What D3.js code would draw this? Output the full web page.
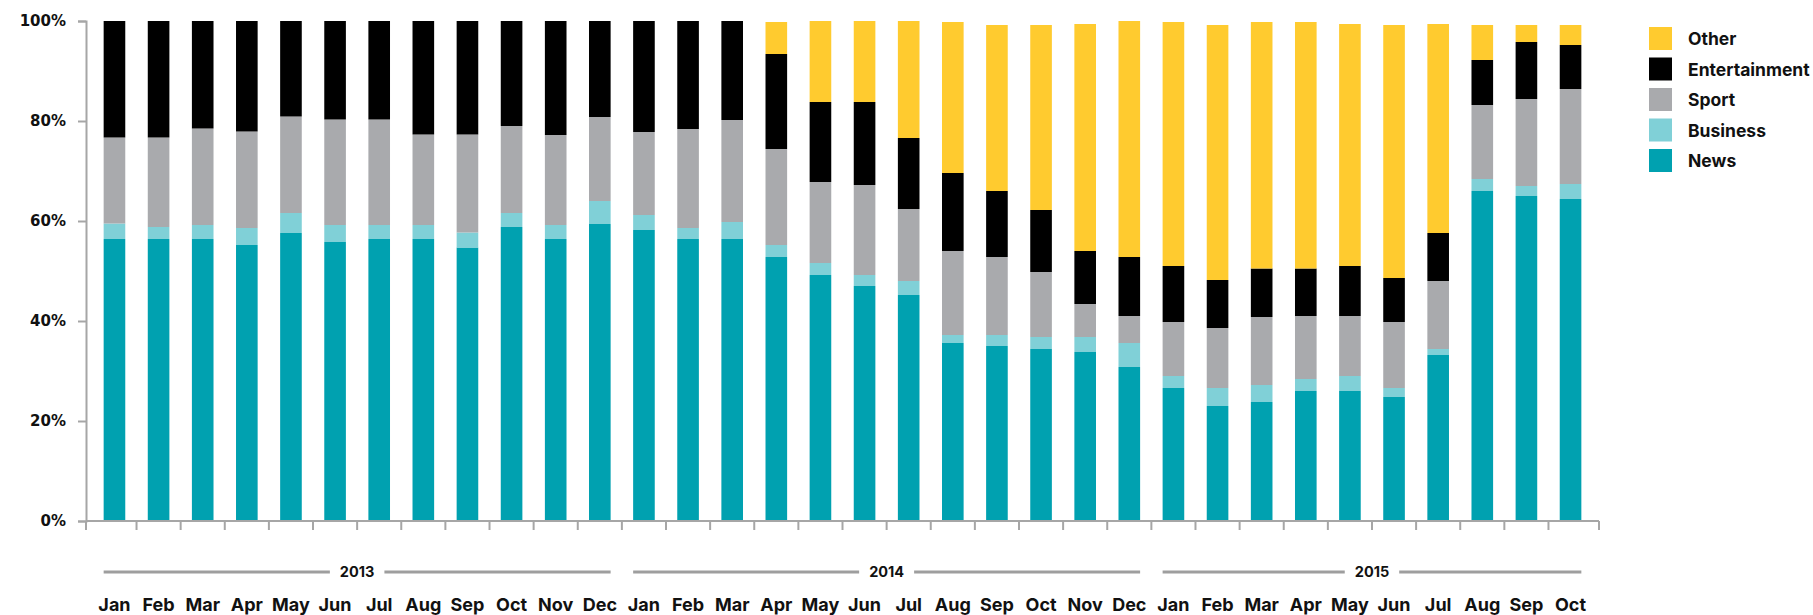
<!DOCTYPE html>
<html>
<head>
<meta charset="utf-8">
<script src="https://cdn.jsdelivr.net/npm/d3@7"></script>
<style>
  body { margin: 0; background: #fff; }
  text { font-family: Inter, "Noto Sans", sans-serif; font-weight: 700; fill: #111; }
  .yax text { font-family: "DejaVu Sans", sans-serif; }
</style>
</head>
<body>
<svg id="chart" width="1813" height="615"></svg>
<script>
// months, Jan 2013 .. Oct 2015
const months = ['Jan','Feb','Mar','Apr','May','Jun','Jul','Aug','Sep','Oct','Nov','Dec',
                'Jan','Feb','Mar','Apr','May','Jun','Jul','Aug','Sep','Oct','Nov','Dec',
                'Jan','Feb','Mar','Apr','May','Jun','Jul','Aug','Sep','Oct']
const years = ['2013', '2014', '2015']
const yearOf = months.map((m, i) => years[Math.floor(i / 12)])

// share of traffic, %
const news          = [56.4,56.4,56.4,55.2,57.6,55.8,56.4,56.4,54.7,58.8,56.4,59.4,58.2,56.4,56.4,52.8,49.2,47.0,45.2,35.6,35.0,34.4,33.8,30.8,26.6,23.0,23.8,26.0,26.0,24.8,33.2,66.0,65.0,64.4]
const business      = [3.1,2.4,2.8,3.4,4.0,3.4,2.8,2.8,3.0,2.8,2.8,4.6,3.0,2.2,3.4,2.4,2.4,2.2,2.8,1.6,2.2,2.4,3.0,4.8,2.4,3.6,3.4,2.4,3.0,1.8,1.2,2.4,2.0,3.0]
const sport         = [17.2,17.9,19.3,19.3,19.3,21.1,21.1,18.1,19.6,17.4,18.0,16.8,16.6,19.8,20.4,19.2,16.2,18.0,14.4,16.8,15.6,13.0,6.6,5.4,10.8,12.0,13.6,12.6,12.0,13.2,13.6,14.8,17.4,19.0]
const entertainment = [23.3,23.3,21.5,22.1,19.1,19.7,19.7,22.7,22.7,21.0,22.8,19.2,22.2,21.6,19.8,19.0,16.0,16.6,14.2,15.6,13.2,12.4,10.6,11.8,11.2,9.6,9.7,9.5,10.0,8.8,9.6,9.0,11.4,8.8]
const other         = [0,0,0,0,0,0,0,0,0,0,0,0,0,0,0,6.4,16.2,16.2,23.4,30.2,33.2,37.0,45.4,47.2,48.8,51.0,49.3,49.3,48.4,50.6,41.8,7.0,3.4,4.0]

const keys = ['News', 'Business', 'Sport', 'Entertainment', 'Other']
const colors = ['#00a1b0', '#80d0d7', '#a9aaad', '#000000', '#ffcb2f']
const yTicks = [0, 20, 40, 60, 80, 100]

const rows = months.map((m, i) => ({
  i: i, month: m, year: yearOf[i],
  News: news[i], Business: business[i], Sport: sport[i],
  Entertainment: entertainment[i], Other: other[i]
}))

const svg = d3.select('#chart')
const mLeft = 86, mRight = 1599, mTop = 21, mBottom = 521

let x = d3.scaleBand()
  .domain(rows.map(d => d.i))
  .range([mLeft, mRight])
  .paddingInner(0.51)
  .paddingOuter(0.4)

let y = d3.scaleLinear().domain([0, 100]).range([mBottom, mTop])

let color = d3.scaleOrdinal().domain(keys).range(colors)

let series = d3.stack().keys(keys)(rows)

// bars
svg.append('g').selectAll('g')
  .data(series)
  .enter().append('g')
    .attr('fill', d => color(d.key))
  .selectAll('rect')
  .data(d => d)
  .enter().append('rect')
    .attr('x', d => x(d.data.i))
    .attr('width', x.bandwidth())
    .attr('y', d => y(d[1]))
    .attr('height', d => Math.max(0, y(d[0]) - y(d[1])))

// y axis
let yAxis = svg.append('g')
  .attr('class', 'yax')
  .attr('transform', 'translate(' + mLeft + ',0)')
  .call(d3.axisLeft(y).tickValues(yTicks).tickSize(8).tickPadding(12).tickFormat(d => d + '%'))
yAxis.attr('font-family', null).attr('font-size', null)
yAxis.select('.domain').attr('stroke', '#a6a6a6').attr('stroke-width', 2)
yAxis.selectAll('.tick line').attr('stroke', '#a6a6a6').attr('stroke-width', 2)
yAxis.selectAll('text').style('font-size', '15px').attr('fill', '#111')

// x axis line + ticks between bars
let step = x.step()
let tickX = rows.map(d => x(d.i) - (step - x.bandwidth()) / 2)
tickX.push(mRight)
tickX[0] = mLeft
svg.append('line')
  .attr('x1', mLeft).attr('x2', mRight)
  .attr('y1', mBottom).attr('y2', mBottom)
  .attr('stroke', '#a6a6a6').attr('stroke-width', 2)
svg.append('g').selectAll('line')
  .data(tickX)
  .enter().append('line')
    .attr('x1', d => d).attr('x2', d => d)
    .attr('y1', mBottom).attr('y2', mBottom + 9)
    .attr('stroke', '#a6a6a6').attr('stroke-width', 2)

// month labels
svg.append('g').selectAll('text')
  .data(rows)
  .enter().append('text')
    .attr('x', d => x(d.i) + x.bandwidth() / 2)
    .attr('y', 611)
    .attr('text-anchor', 'middle')
    .style('font-size', '18px')
    .text(d => d.month)

// year group lines
let yearY = 572
years.forEach(yr => {
  let idx = rows.filter(d => d.year === yr).map(d => d.i)
  let x0 = x(idx[0]), x1 = x(idx[idx.length - 1]) + x.bandwidth()
  let cx = (x0 + x1) / 2
  let g = svg.append('g')
  let t = g.append('text')
    .attr('x', cx).attr('y', yearY + 5)
    .attr('text-anchor', 'middle')
    .style('font-size', '14.5px')
    .text(yr)
  let w = t.node().getComputedTextLength() / 2 + 10
  g.insert('line', 'text')
    .attr('x1', x0).attr('x2', cx - w)
    .attr('y1', yearY).attr('y2', yearY)
    .attr('stroke', '#9e9e9e').attr('stroke-width', 3)
  g.insert('line', 'text')
    .attr('x1', cx + w).attr('x2', x1)
    .attr('y1', yearY).attr('y2', yearY)
    .attr('stroke', '#9e9e9e').attr('stroke-width', 3)
})

// legend, top to bottom: Other .. News
let legend = svg.append('g').attr('transform', 'translate(1649,27)')
let item = legend.selectAll('g')
  .data(keys.slice().reverse())
  .enter().append('g')
    .attr('transform', (d, i) => 'translate(0,' + (i * 30.5) + ')')
item.append('rect')
  .attr('width', 23).attr('height', 23)
  .attr('fill', d => color(d))
item.append('text')
  .attr('x', 39).attr('y', 18)
  .style('font-size', '17.5px')
  .text(d => d)
</script>
</body>
</html>
